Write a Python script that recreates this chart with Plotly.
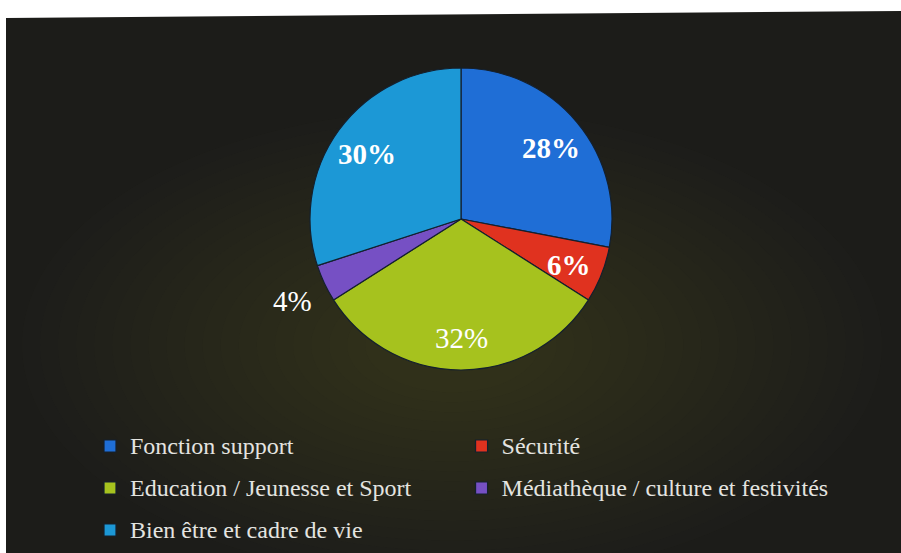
import math
import plotly.graph_objects as go

# Budget split by domain
categories = [
    "Fonction support",
    "Sécurité",
    "Education / Jeunesse et Sport",
    "Médiathèque / culture et festivités",
    "Bien être et cadre de vie",
]
shares = [28, 6, 32, 4, 30]
slice_colors = ["#1f6ed6", "#e0321f", "#a6c21e", "#7650c4", "#1c98d6"]
label_bold = [True, True, False, False, True]
label_outside = [False, False, False, True, False]

W, H = 901, 553
cx, cy, r = 461, 219, 151

legend_names = [
    f'<span style="font-size:24px;baseline-shift:4px">{c}</span>' for c in categories
]

fig = go.Figure(
    go.Pie(
        labels=legend_names,
        values=shares,
        sort=False,
        direction="clockwise",
        rotation=0,
        marker=dict(colors=slice_colors, line=dict(color="#14202e", width=1.2)),
        textinfo="none",
        hovertemplate="%{value}%<extra></extra>",
        domain=dict(
            x=[(cx - r) / W, (cx + r) / W],
            y=[1 - (cy + r) / H, 1 - (cy - r) / H],
        ),
    )
)

# percentage labels placed along each slice's bisector
total = sum(shares)
annotations = []
cum = 0
for v, bold, outside in zip(shares, label_bold, label_outside):
    mid = (cum + v / 2) / total * 2 * math.pi
    cum += v
    rad = r * (1.23 if outside else 0.77)
    px = cx + rad * math.sin(mid)
    py = cy - rad * math.cos(mid)
    txt = f"{v}%"
    annotations.append(dict(
        x=px / W, y=1 - py / H, xref="paper", yref="paper",
        text=f"<b>{txt}</b>" if bold else txt,
        showarrow=False, xanchor="center", yanchor="middle", yshift=-3,
        font=dict(family="Liberation Serif", size=29, color="#ffffff"),
    ))

# dark panel with a slanted top edge, plus a soft lighter glow toward the lower centre
shapes = [
    dict(
        type="path", xref="paper", yref="paper",
        path=f"M {6/W},0 L {6/W},{1-18/H} L 1,{1-11/H} L 1,0 Z",
        fillcolor="#1c1c19", line=dict(width=0), layer="below",
    )
]
gx, gy = 452, 345
n = 20
for k in range(n):
    s = 1.0 - k * 0.042
    ax, ay = 430 * s, 235 * s
    shapes.append(dict(
        type="circle", xref="paper", yref="paper",
        x0=(gx - ax) / W, x1=(gx + ax) / W,
        y0=1 - (gy + ay) / H, y1=1 - (gy - ay) / H,
        fillcolor="#48453d", opacity=0.04, line=dict(width=0), layer="below",
    ))

fig.update_layout(
    width=W, height=H,
    margin=dict(l=0, r=0, t=0, b=0, autoexpand=False),
    paper_bgcolor="#ffffff",
    plot_bgcolor="rgba(0,0,0,0)",
    shapes=shapes,
    annotations=annotations,
    showlegend=True,
    legend=dict(
        orientation="h",
        x=90 / W, xanchor="left",
        y=1 - 420 / H, yanchor="top",
        font=dict(family="Liberation Serif", size=30, color="#e4e4e0"),
        bgcolor="rgba(0,0,0,0)",
        traceorder="normal",
    ),
)

fig.write_html("out.html")
